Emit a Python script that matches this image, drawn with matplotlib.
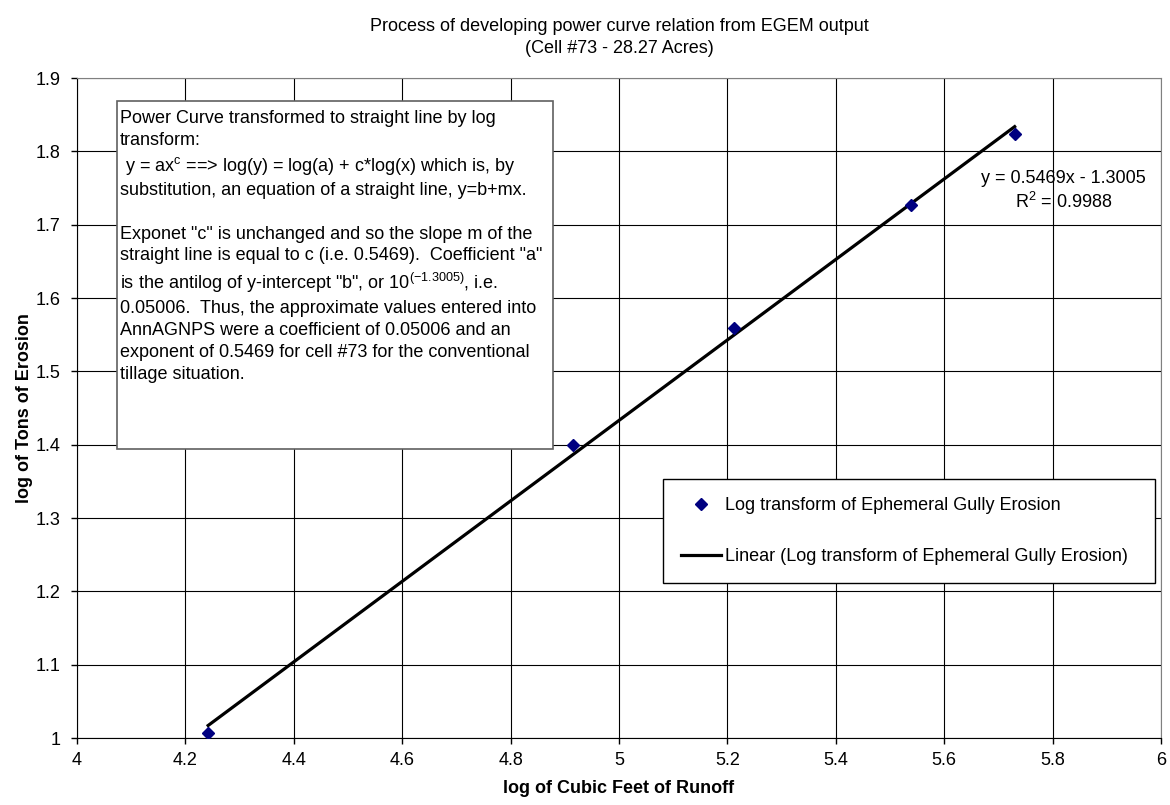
import numpy as np
import matplotlib
matplotlib.use("Agg")
import matplotlib.pyplot as plt
from matplotlib.patches import Rectangle

plt.rcParams['font.family'] = ['Liberation Sans', 'DejaVu Sans']
plt.rcParams['mathtext.fontset'] = 'custom'
plt.rcParams['mathtext.rm'] = 'Liberation Sans'
plt.rcParams['mathtext.it'] = 'Liberation Sans:italic'

# log of cubic feet of runoff vs log of tons of erosion (cell #73)
log_runoff = [4.242, 4.915, 5.213, 5.539, 5.730]
log_erosion = [1.007, 1.400, 1.5585, 1.7265, 1.824]

x_ticks = [4, 4.2, 4.4, 4.6, 4.8, 5, 5.2, 5.4, 5.6, 5.8, 6]
x_ticklabels = ["4", "4.2", "4.4", "4.6", "4.8", "5", "5.2", "5.4", "5.6", "5.8", "6"]
y_ticks = [1, 1.1, 1.2, 1.3, 1.4, 1.5, 1.6, 1.7, 1.8, 1.9]
y_ticklabels = ["1", "1.1", "1.2", "1.3", "1.4", "1.5", "1.6", "1.7", "1.8", "1.9"]

title = "Process of developing power curve relation from EGEM output\n(Cell #73 - 28.27 Acres)"
equation = "y = 0.5469x - 1.3005\nR$^2$ = 0.9988"

box_lines = [
    "Power Curve transformed to straight line by log",
    "transform:",
    r" y = ax$^{\mathrm{c}}$ ==> log(y) = log(a) + c*log(x) which is, by",
    "substitution, an equation of a straight line, y=b+mx.",
    "",
    'Exponet "c" is unchanged and so the slope m of the',
    'straight line is equal to c (i.e. 0.5469).  Coefficient "a"',
    r'is the antilog of y-intercept "b", or 10$^{\mathrm{(-1.3005)}}$, i.e.',
    "0.05006.  Thus, the approximate values entered into",
    "AnnAGNPS were a coefficient of 0.05006 and an",
    "exponent of 0.5469 for cell #73 for the conventional",
    "tillage situation.",
]

fs = 13

fig = plt.figure(figsize=(11.7, 8.05), dpi=100)
ax = fig.add_axes([0.0658, 0.0832, 0.9265, 0.8199])

ax.grid(True, color='black', linewidth=0.8)
ax.set_axisbelow(True)

xs = np.array(log_runoff)
ys = np.array(log_erosion)
slope, intercept = np.polyfit(xs, ys, 1)
fit_x = np.array([xs.min(), xs.max()])
ax.plot(fit_x, slope * fit_x + intercept, color='black', linewidth=2.3,
        label='Linear (Log transform of Ephemeral Gully Erosion)', zorder=3)
ax.plot(xs, ys, linestyle='none', marker='D', markersize=6, color='#000080',
        label='Log transform of Ephemeral Gully Erosion', zorder=4)

ax.set_xlim(4, 6)
ax.set_ylim(1, 1.9)
ax.set_xticks(x_ticks)
ax.set_xticklabels(x_ticklabels)
ax.set_yticks(y_ticks)
ax.set_yticklabels(y_ticklabels)
ax.tick_params(axis='both', labelsize=fs, direction='out', length=4, width=1, color='black')
ax.tick_params(axis='x', pad=6)
ax.tick_params(axis='y', pad=8)

for side in ['top', 'right']:
    ax.spines[side].set_color('#808080')
for side in ['left', 'bottom']:
    ax.spines[side].set_color('black')

ax.set_xlabel("log of Cubic Feet of Runoff", fontsize=fs, fontweight='bold', labelpad=8)
ax.set_ylabel("log of Tons of Erosion", fontsize=fs, fontweight='bold', labelpad=2)
ax.set_title(title, fontsize=fs, pad=18, linespacing=1.35)

ax.text(5.82, 1.775, equation, fontsize=fs, ha='center', va='top',
        multialignment='center', linespacing=1.3)

# explanation box
ax.add_patch(Rectangle((0.0366, 0.4384), 0.4022, 0.5261, transform=ax.transAxes,
                       facecolor='white', edgecolor='#606060', linewidth=1.2, zorder=5))
ax.text(0.0395, 0.952, "\n".join(box_lines), transform=ax.transAxes, fontsize=fs,
        va='top', ha='left', linespacing=1.38, zorder=6)

handles, labels = ax.get_legend_handles_labels()
leg = ax.legend(handles[::-1], labels[::-1], loc='upper left',
                bbox_to_anchor=(0.541, 0.2253, 0.4535, 0.1674), mode='expand',
                fontsize=fs, frameon=True, fancybox=False, framealpha=1,
                edgecolor='black', labelspacing=1.9, borderpad=1.0,
                handlelength=2.2, handletextpad=0.2, borderaxespad=0)
leg.get_frame().set_linewidth(1.0)
leg.set_zorder(6)

fig.savefig("out.png", dpi=100)
